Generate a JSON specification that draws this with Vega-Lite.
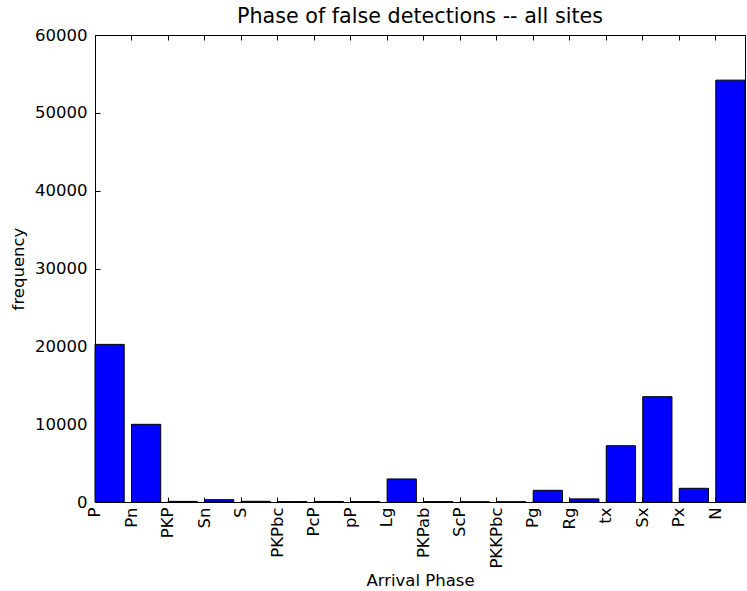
{
  "$schema": "https://vega.github.io/schema/vega-lite/v6.json",
  "autosize": {"type": "none"},
  "padding": {"left": 95, "top": 35, "right": 2, "bottom": 89},
  "width": 650,
  "height": 467,
  "background": "white",
  "config": {
    "font": "DejaVu Sans",
    "view": {"stroke": "black", "strokeWidth": 1},
    "axis": {
      "domain": false,
      "grid": false,
      "tickColor": "black",
      "tickSize": -5,
      "labelColor": "black",
      "labelFont": "DejaVu Sans",
      "labelFontSize": 16.5,
      "titleFont": "DejaVu Sans",
      "titleFontSize": 16.5,
      "titleFontWeight": "normal",
      "titleColor": "black"
    }
  },
  "title": {"text": "Phase of false detections -- all sites", "fontSize": 20.7, "fontWeight": "normal", "font": "DejaVu Sans", "color": "black", "offset": -1},
  "data": {
    "values": [
      {"phase": "P", "count": 20250},
      {"phase": "Pn", "count": 9980},
      {"phase": "PKP", "count": 80},
      {"phase": "Sn", "count": 300},
      {"phase": "S", "count": 90},
      {"phase": "PKPbc", "count": 50},
      {"phase": "PcP", "count": 70},
      {"phase": "pP", "count": 50},
      {"phase": "Lg", "count": 2960},
      {"phase": "PKPab", "count": 40},
      {"phase": "ScP", "count": 30},
      {"phase": "PKKPbc", "count": 30},
      {"phase": "Pg", "count": 1500},
      {"phase": "Rg", "count": 400},
      {"phase": "tx", "count": 7230},
      {"phase": "Sx", "count": 13530},
      {"phase": "Px", "count": 1760},
      {"phase": "N", "count": 54200}
    ]
  },
  "layer": [
    {
      "mark": {"type": "bar", "color": "#0000ff", "stroke": "black", "strokeWidth": 1},
      "encoding": {
        "x": {
          "field": "phase", "type": "nominal", "sort": null,
          "scale": {"paddingInner": 0.2, "paddingOuter": 0},
          "axis": {"orient": "bottom", "title": "Arrival Phase", "labelAngle": 270, "bandPosition": 0, "labelOffset": -14.6, "labelPadding": 10, "titlePadding": 4}
        },
        "y": {
          "field": "count", "type": "quantitative",
          "scale": {"domain": [0, 60000], "nice": false},
          "axis": {"orient": "left", "title": "frequency", "format": "d", "values": [0, 10000, 20000, 30000, 40000, 50000, 60000], "labelPadding": 13, "titlePadding": 8}
        }
      }
    },
    {
      "mark": {"type": "bar", "opacity": 0},
      "encoding": {
        "x": {
          "field": "phase", "type": "nominal", "sort": null,
          "scale": {"paddingInner": 0.2, "paddingOuter": 0},
          "axis": {"orient": "top", "title": null, "labels": false, "bandPosition": 0}
        },
        "y": {
          "field": "count", "type": "quantitative",
          "scale": {"domain": [0, 60000], "nice": false},
          "axis": {"orient": "right", "title": null, "labels": false, "values": [0, 10000, 20000, 30000, 40000, 50000, 60000]}
        }
      }
    }
  ],
  "resolve": {"axis": {"x": "independent", "y": "independent"}}
}
